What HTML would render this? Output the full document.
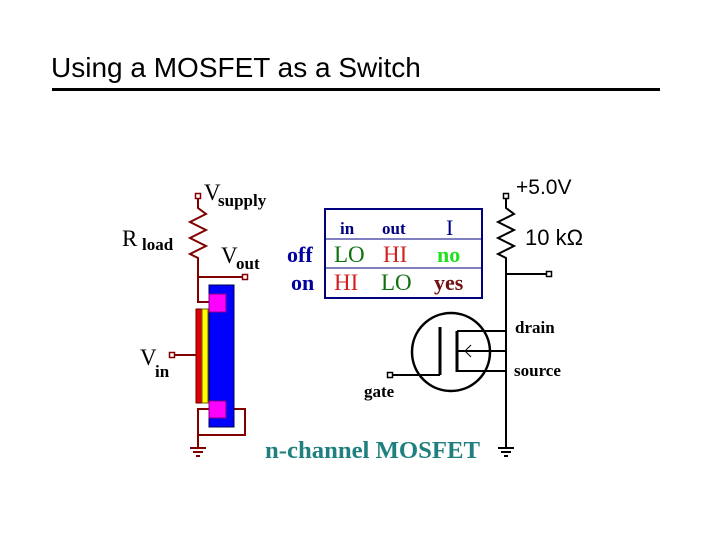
<!DOCTYPE html>
<html><head><meta charset="utf-8"><style>
html,body{margin:0;padding:0;background:#fff;width:720px;height:540px;overflow:hidden}
</style></head><body>
<svg width="720" height="540" xmlns="http://www.w3.org/2000/svg">
<text x="51" y="77" font-family="Liberation Sans, sans-serif" font-size="28" fill="#000">Using a MOSFET as a Switch</text>
<rect x="52" y="88" width="608" height="3" fill="#000"/>

<!-- Left circuit -->
<g stroke="#800000" stroke-width="2" fill="none">
<polyline points="198,198 198,208 206,214 190,222 206,230 190,238 206,246 190,254 198,258 198,277 245,277"/>
<polyline points="198,277 198,302 210,302"/>
<line x1="173" y1="355" x2="196" y2="355"/>
<polyline points="210,409 198,409 198,448"/>
<polyline points="198,435 245,435 245,409 234,409"/>
<line x1="190" y1="448" x2="206" y2="448"/>
<line x1="193" y1="452" x2="203" y2="452"/>
<line x1="196" y1="456" x2="200" y2="456"/>
</g>
<rect x="195.5" y="193.5" width="5" height="5" fill="#fff" stroke="#800000" stroke-width="1.5"/>
<rect x="242.5" y="274.5" width="5" height="5" fill="#fff" stroke="#800000" stroke-width="1.5"/>
<rect x="169.5" y="352.5" width="5" height="5" fill="#fff" stroke="#800000" stroke-width="1.5"/>
<rect x="209" y="285" width="25" height="142" fill="#0000ff" stroke="#000050" stroke-width="1"/>
<rect x="196" y="309" width="6" height="94" fill="#e00000" stroke="#600000" stroke-width="1"/>
<rect x="202" y="309" width="6" height="94" fill="#ffff00" stroke="#606000" stroke-width="1"/>
<rect x="209" y="294" width="17" height="18" fill="#ff00ff" stroke="#800080" stroke-width="1"/>
<rect x="209" y="401" width="17" height="17" fill="#ff00ff" stroke="#800080" stroke-width="1"/>

<g font-family="Liberation Serif, serif" fill="#000">
<text x="204" y="200" font-size="23">V</text><text x="218" y="206" font-size="17" font-weight="bold">supply</text>
<text x="122" y="246" font-size="23">R</text><text x="142" y="250" font-size="17" font-weight="bold">load</text>
<text x="221" y="263" font-size="23">V</text><text x="236" y="269" font-size="17" font-weight="bold">out</text>
<text x="140" y="365" font-size="23">V</text><text x="155" y="377" font-size="17" font-weight="bold">in</text>
</g>

<!-- Table -->
<rect x="325" y="209" width="157" height="89" fill="none" stroke="#000080" stroke-width="2"/>
<line x1="325" y1="239" x2="482" y2="239" stroke="#000080" stroke-width="1"/>
<line x1="325" y1="268" x2="482" y2="268" stroke="#000080" stroke-width="1"/>
<g font-family="Liberation Serif, serif">
<text x="340" y="234" font-size="17" font-weight="bold" fill="#000080">in</text>
<text x="382" y="234" font-size="17" font-weight="bold" fill="#000080">out</text>
<text x="446" y="235" font-size="22" fill="#000080">I</text>
<text x="287" y="262" font-size="22" font-weight="bold" fill="#0000a0">off</text>
<text x="291" y="290" font-size="22" font-weight="bold" fill="#0000a0">on</text>
<text x="334" y="262" font-size="23" fill="#107010">LO</text>
<text x="383" y="262" font-size="23" fill="#d02020">HI</text>
<text x="437" y="262" font-size="22" font-weight="bold" fill="#20e020">no</text>
<text x="334" y="290" font-size="23" fill="#d02020">HI</text>
<text x="381" y="290" font-size="23" fill="#107010">LO</text>
<text x="434" y="290" font-size="22" font-weight="bold" fill="#701010">yes</text>
</g>

<!-- Right circuit -->
<g stroke="#000" stroke-width="2" fill="none">
<polyline points="506,198 506,208 514,214 498,222 514,230 498,238 514,246 498,254 506,258 506,448"/>
<line x1="506" y1="274" x2="547" y2="274"/>
<circle cx="451" cy="352" r="39" stroke-width="2.5"/>
<line x1="440" y1="327" x2="440" y2="375" stroke-width="3"/>
<line x1="457" y1="331" x2="457" y2="372" stroke-width="3"/>
<line x1="393" y1="375" x2="440" y2="375"/>
<line x1="457" y1="331" x2="506" y2="331"/>
<line x1="457" y1="351" x2="506" y2="351"/>
<line x1="457" y1="371" x2="506" y2="371"/>
<polyline points="471,345 465,351 471,357" stroke-width="1"/>
<line x1="498" y1="448" x2="514" y2="448"/>
<line x1="501" y1="452" x2="511" y2="452"/>
<line x1="504" y1="456" x2="508" y2="456"/>
</g>
<rect x="503.5" y="193.5" width="5" height="5" fill="#fff" stroke="#000" stroke-width="1.5"/>
<rect x="546.5" y="271.5" width="5" height="5" fill="#fff" stroke="#000" stroke-width="1.5"/>
<rect x="387.5" y="372.5" width="5" height="5" fill="#fff" stroke="#000" stroke-width="1.5"/>
<text x="516" y="194" font-family="Liberation Sans, sans-serif" font-size="21" fill="#000">+5.0V</text>
<text x="525" y="245" font-family="Liberation Sans, sans-serif" font-size="22" fill="#000">10 kΩ</text>
<g font-family="Liberation Serif, serif" font-weight="bold" font-size="17" fill="#000">
<text x="515" y="333">drain</text>
<text x="514" y="376">source</text>
<text x="364" y="397">gate</text>
</g>
<text x="265" y="458" font-family="Liberation Serif, serif" font-weight="bold" font-size="24" fill="#208080" textLength="215" lengthAdjust="spacingAndGlyphs">n-channel MOSFET</text>
</svg>
</body></html>
